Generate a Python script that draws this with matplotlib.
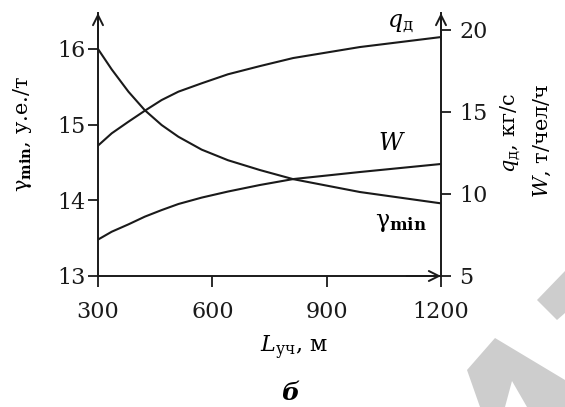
import matplotlib
matplotlib.use("Agg")
import matplotlib.pyplot as plt
from matplotlib.patches import Polygon

plt.rcParams['font.family'] = ['DejaVu Serif']
plt.rcParams['mathtext.fontset'] = 'dejavuserif'

# values
L_uch = [300, 336, 380, 423, 467, 511, 572, 641, 725, 812, 987, 1200]
gamma_min = [16.0, 15.73, 15.435, 15.19, 14.995, 14.84, 14.67, 14.53, 14.40, 14.28, 14.11, 13.96]
q_d = [12.95, 13.70, 14.41, 15.08, 15.73, 16.24, 16.75, 17.3, 17.8, 18.29, 18.96, 19.57]
W = [7.22, 7.70, 8.15, 8.62, 9.02, 9.39, 9.78, 10.15, 10.55, 10.91, 11.34, 11.83]

x_ticks = [300, 600, 900, 1200]
left_ticks = [13, 14, 15, 16]
right_ticks = [5, 10, 15, 20]

W_PX, H_PX = 565, 407
fig = plt.figure(figsize=(W_PX / 100, H_PX / 100), dpi=100)

def fx(px):
    return px / W_PX

def fy(py):
    return 1 - py / H_PX

ax = fig.add_axes([fx(98), fy(276), fx(441) - fx(98), fy(13) - fy(276)])
ax2 = ax.twinx()

ax.plot(L_uch, gamma_min, color='#1a1a1a', lw=1.5)
ax2.plot(L_uch, q_d, color='#1a1a1a', lw=1.5)
ax2.plot(L_uch, W, color='#1a1a1a', lw=1.5)

ax.set_xlim(300, 1200)
ax.set_ylim(13, 13 + 263 / 75.67)
ax2.set_ylim(5, 5 + 263 / 16.4)

ax.set_xticks(x_ticks)
ax.set_yticks(left_ticks)
ax2.set_yticks(right_ticks)

for a in (ax, ax2):
    a.spines['top'].set_visible(False)
    for s in a.spines.values():
        s.set_linewidth(1.4)
        s.set_color('#1a1a1a')
ax.spines['right'].set_visible(False)
ax2.spines['left'].set_visible(False)
ax2.spines['bottom'].set_visible(False)

ax.tick_params(axis='x', direction='out', length=8, width=1.3, labelsize=16, pad=10, colors='#1a1a1a')
ax.tick_params(axis='y', direction='out', length=7, width=1.3, labelsize=16, pad=2, colors='#1a1a1a')
ax2.tick_params(axis='y', direction='out', length=7, width=1.3, labelsize=16, pad=6, colors='#1a1a1a')

arrow = dict(arrowstyle='->', lw=1.4, color='#1a1a1a', mutation_scale=18, shrinkA=0, shrinkB=0)
ax.annotate('', xy=(0, 1), xytext=(0, 0.9), xycoords='axes fraction', arrowprops=arrow)
ax.annotate('', xy=(1, 1), xytext=(1, 0.9), xycoords='axes fraction', arrowprops=arrow)
ax.annotate('', xy=(1, 0), xytext=(0.9, 0), xycoords='axes fraction', arrowprops=arrow)

# curve labels
ax2.text(1092, 20.4, r'$q_\mathrm{д}$', fontsize=17, ha='center', va='center')
ax2.text(1071, 13.1, r'$W$', fontsize=17, ha='center', va='center')
ax.text(1095, 13.71, r'γ$_{\mathbf{min}}$', fontsize=17, ha='center', va='center')

# axis labels
fig.text(fx(23), fy(134), r'γ$_{\mathbf{min}}$, у.е./т', fontsize=15,
         rotation=90, ha='center', va='center')
fig.text(fx(511), fy(133), r'$q_\mathrm{д}$, кг/с', fontsize=15,
         rotation=90, ha='center', va='center')
fig.text(fx(542), fy(141), r'$W$, т/чел/ч', fontsize=15,
         rotation=90, ha='center', va='center')
fig.text(fx(294), fy(348), r'$L_\mathrm{уч}$, м', fontsize=16, ha='center', va='center')
fig.text(fx(290), fy(393), 'б', fontsize=18, fontweight='bold', fontstyle='italic',
         ha='center', va='center')

# grey watermark pieces in the lower right corner
wm = '#cdcdcd'
def poly(pts, color):
    fig.patches.append(Polygon([(fx(x), fy(y)) for x, y in pts], closed=True,
                               transform=fig.transFigure, facecolor=color,
                               edgecolor='none', zorder=0))

poly([(537, 300), (565, 271), (565, 313), (557, 320)], wm)
poly([(467, 370), (495, 338), (565, 380), (565, 407), (480, 407)], wm)
poly([(512, 381), (505, 407), (527, 407)], 'white')

fig.savefig('out.png', dpi=100)
